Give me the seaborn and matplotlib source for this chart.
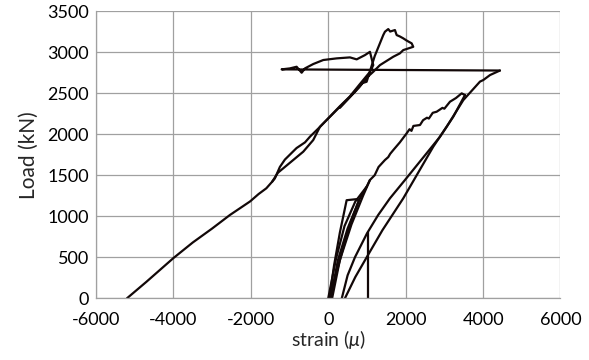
import matplotlib
matplotlib.use("Agg")
import matplotlib.pyplot as plt
import seaborn as sns
import pandas as pd

# ---- data (strain in micro-strain, load in kN) ----
main_x = [-5200, -4700, -4000, -3500, -3000, -2540, -2020, -1800, -1600, -1450, -1380, -1250, -1120,
          -820, -600, -470, -210, 300, 560, 800, 1080, 1163, 1077, 948, 734, 561, 217, -129, -388,
          -602, -687, -817, -990, -1204, 4436]
main_y = [0, 200, 490, 680, 850, 1015, 1180, 1270, 1340, 1420, 1460, 1600, 1690,
          1830, 1900, 1970, 2090, 2340, 2460, 2600, 2760, 2841, 3003, 2963, 2911, 2935, 2923, 2903, 2854,
          2801, 2748, 2821, 2801, 2789, 2775]

second_x = [-1450, -1300, -904, -646, -388, -214, 302, 561, 870, 991, 1200, 1421, 1465, 1550, 1600,
            1723, 1767, 1850, 1938, 2026, 2155, 2196, 1938, 1850, 1680, 1336, 1163, 1000, 800, 300]
second_y = [1420, 1530, 1685, 1786, 1928, 2090, 2334, 2456, 2620, 2638, 2950, 3207, 3248, 3280, 3250,
            3268, 3207, 3190, 3167, 3140, 3106, 3064, 3024, 2984, 2943, 2841, 2760, 2690, 2570, 2320]

unload_x = [4436, 4180, 4005, 3920, 3490, 3060, 2886, 2540, 1980, 1594, 1290, 1000, 690, 500, 350]
unload_y = [2775, 2720, 2659, 2640, 2415, 2090, 1968, 1766, 1440, 1218, 1015, 790, 500, 280, 0]

return_x = [3532, 3230, 2713, 1938, 1400, 1018, 700, 431]
return_y = [2476, 2212, 1847, 1218, 830, 520, 260, 0]

loop_x = [30, 150, 300, 475, 734, 790, 560, 350, 150, 60]
loop_y = [0, 400, 800, 1195, 1208, 1190, 900, 550, 200, 0]

rise_x = [60, 250, 500, 800, 991, 1077, 1200, 1300, 1465, 1550, 1600, 1680, 1850, 2026, 2100, 2150,
          2200, 2370, 2450, 2550, 2600, 2700, 2801, 2950, 3000, 3145, 3300, 3447, 3532]
rise_y = [0, 466, 850, 1200, 1359, 1441, 1500, 1600, 1685, 1720, 1760, 1806, 1900, 2010, 2060, 2040,
          2100, 2111, 2170, 2200, 2190, 2260, 2273, 2320, 2310, 2395, 2440, 2497, 2476]

extra_x = [100, 300, 600, 900, 1077]
extra_y = [0, 466, 900, 1250, 1441]

extra2_x = [0, 200, 420, 700, 991]
extra2_y = [0, 480, 880, 1180, 1359]

vert_x = [1018, 1018]
vert_y = [0, 810]

series = {
    "main": (main_x, main_y),
    "second": (second_x, second_y),
    "unload": (unload_x, unload_y),
    "return": (return_x, return_y),
    "loop": (loop_x, loop_y),
    "rise": (rise_x, rise_y),
    "extra": (extra_x, extra_y),
    "extra2": (extra2_x, extra2_y),
    "vert": (vert_x, vert_y),
}

x_ticks = [-6000, -4000, -2000, 0, 2000, 4000, 6000]
y_ticks = [0, 500, 1000, 1500, 2000, 2500, 3000, 3500]

rows = []
for name, (xs, ys) in series.items():
    for i, (xv, yv) in enumerate(zip(xs, ys)):
        rows.append({"seg": name, "order": i, "strain": xv, "load": yv})
df = pd.DataFrame(rows)

sns.set_style("white")
plt.rcParams["font.family"] = ["Lato", "DejaVu Sans"]
plt.rcParams["mathtext.fontset"] = "custom"
plt.rcParams["mathtext.it"] = "Lato:italic"

fig = plt.figure(figsize=(5.89, 3.60), dpi=100)
ax = fig.add_axes([0.163, 0.1714, 0.7886, 0.798])

sns.lineplot(data=df, x="strain", y="load", units="seg", estimator=None, sort=False,
             color="#120808", linewidth=1.6, ax=ax, legend=False)

ax.set_xlim(-6000, 6000)
ax.set_ylim(0, 3500)
ax.set_xticks(x_ticks)
ax.set_yticks(y_ticks)
ax.set_xticklabels([str(v) for v in x_ticks])
ax.set_yticklabels([str(v) for v in y_ticks])
ax.tick_params(axis="both", length=0, labelsize=13, colors="#000000")
ax.tick_params(axis="x", pad=10)
ax.tick_params(axis="y", pad=5)
ax.grid(True, color="#a0a0a0", linewidth=0.9)
ax.set_axisbelow(True)
for side in ["top", "right"]:
    ax.spines[side].set_visible(False)
for side in ["left", "bottom"]:
    ax.spines[side].set_color("#a0a0a0")
    ax.spines[side].set_linewidth(0.9)

ax.set_xlabel(r"strain ($\mu$)", fontsize=14, labelpad=0)
ax.set_ylabel("Load (kN)", fontsize=15, labelpad=6)

fig.savefig("out.png", dpi=100)
